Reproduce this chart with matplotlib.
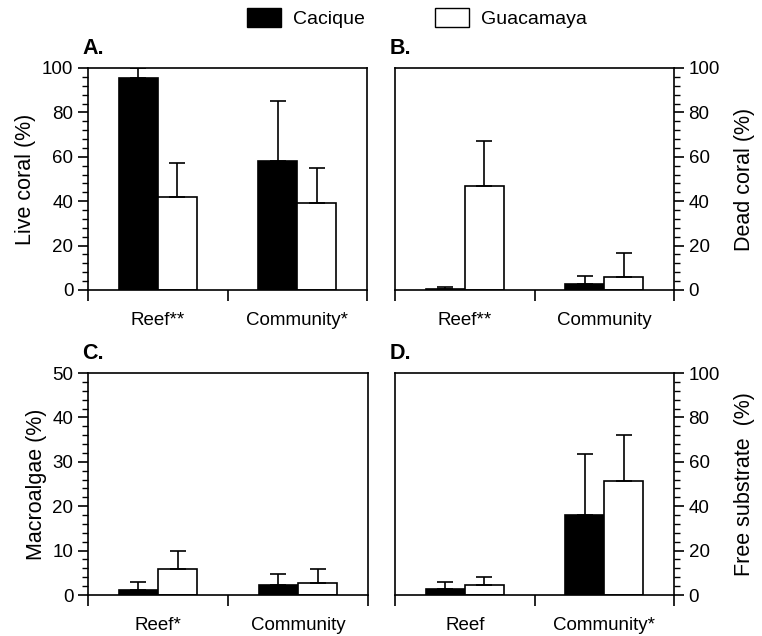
import matplotlib
matplotlib.use("Agg")
from matplotlib import pyplot as plt
from matplotlib.patches import Patch
from matplotlib.ticker import MultipleLocator

plt.rcParams['font.family'] = ['Liberation Sans', 'DejaVu Sans']

# data (mean, upper error)
sites = ["Cacique", "Guacamaya"]

live_labels = ["Reef**", "Community*"]
live_cac = [95.5, 58]
live_cac_err = [4.5, 27]
live_gua = [42, 39]
live_gua_err = [15, 16]

dead_labels = ["Reef**", "Community"]
dead_cac = [0.5, 2.7]
dead_cac_err = [0.7, 3.8]
dead_gua = [47, 6]
dead_gua_err = [20, 10.7]

algae_labels = ["Reef*", "Community"]
algae_cac = [1.1, 2.3]
algae_cac_err = [1.9, 2.5]
algae_gua = [5.9, 2.8]
algae_gua_err = [4.1, 3.0]

free_labels = ["Reef", "Community*"]
free_cac = [2.7, 36]
free_cac_err = [3.0, 27.5]
free_gua = [4.5, 51.5]
free_gua_err = [3.7, 20.5]

fig = plt.figure(figsize=(7.62, 6.36), dpi=100)
W, H = 762, 636


def make_ax(l, r, t, b):
    return fig.add_axes([l / W, 1 - b / H, (r - l) / W, (b - t) / H])


panels = [
    ("A.", make_ax(88, 367, 68, 290), live_labels, live_cac, live_cac_err, live_gua, live_gua_err,
     "Live coral (%)", "left", 100, 20, 4),
    ("B.", make_ax(395, 674, 68, 290), dead_labels, dead_cac, dead_cac_err, dead_gua, dead_gua_err,
     "Dead coral (%)", "right", 100, 20, 4),
    ("C.", make_ax(88, 368, 373, 595), algae_labels, algae_cac, algae_cac_err, algae_gua, algae_gua_err,
     "Macroalgae (%)", "left", 50, 10, 2),
    ("D.", make_ax(395, 674, 373, 595), free_labels, free_cac, free_cac_err, free_gua, free_gua_err,
     "Free substrate  (%)", "right", 100, 20, 4),
]

bw = 0.28
centers = [0.5, 1.5]
for letter, ax, labels, cac, cac_err, gua, gua_err, ylab, side, ymax, major, minor in panels:
    xc = [c - bw / 2 for c in centers]
    xg = [c + bw / 2 for c in centers]
    ax.bar(xc, cac, bw, color="black", edgecolor="black", linewidth=1.2,
           yerr=[[0, 0], cac_err], capsize=6, error_kw=dict(elinewidth=1.2, capthick=1.2, ecolor="black"),
           zorder=2)
    ax.bar(xg, gua, bw, color="white", edgecolor="black", linewidth=1.2,
           yerr=[[0, 0], gua_err], capsize=6, error_kw=dict(elinewidth=1.2, capthick=1.2, ecolor="black"),
           zorder=2)
    ax.set_xlim(0, 2)
    ax.set_ylim(0, ymax)
    ax.yaxis.set_major_locator(MultipleLocator(major))
    ax.yaxis.set_minor_locator(MultipleLocator(minor))
    ax.set_xticks([0, 1, 2])
    ax.set_xticklabels([])
    ax.set_xticks(centers, minor=True)
    ax.set_xticklabels(labels, minor=True, fontsize=13.5)
    ax.tick_params(axis="x", which="major", direction="out", length=8, width=1.2)
    ax.tick_params(axis="x", which="minor", length=0, pad=16)
    ax.tick_params(axis="y", which="major", direction="out", length=7, width=1.2, labelsize=13.5)
    ax.tick_params(axis="y", which="minor", direction="out", length=4, width=1)
    for s in ax.spines.values():
        s.set_linewidth(1.2)
    if side == "right":
        ax.yaxis.tick_right()
        ax.yaxis.set_label_position("right")
        ax.set_ylabel(ylab, fontsize=15.5, labelpad=10)
    else:
        ax.set_ylabel(ylab, fontsize=15.5, labelpad=4)
    ax.text(-0.02, 1.04, letter, transform=ax.transAxes, fontsize=15.5, fontweight="bold",
            ha="left", va="bottom")

handles = [Patch(facecolor="black", edgecolor="black", label=sites[0]),
           Patch(facecolor="white", edgecolor="black", label=sites[1])]
fig.legend(handles=handles, loc="upper center", bbox_to_anchor=(0.547, 1.015), ncol=2,
           frameon=False, fontsize=14, handlelength=1.75, handleheight=1.1,
           columnspacing=3.6, handletextpad=0.62)

fig.savefig("out.png", dpi=100)
